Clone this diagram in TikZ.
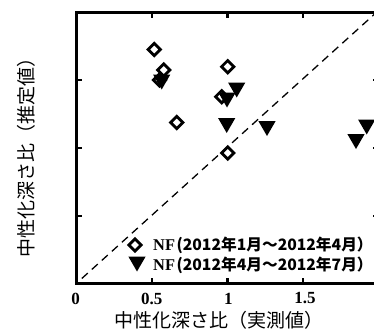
\documentclass[tikz,border=0pt]{standalone}
\usepackage{fontspec}
\setmainfont{Liberation Serif}
\newfontfamily\cjk{Noto Sans CJK JP}
\usetikzlibrary{shapes.geometric}
\begin{document}
\begin{tikzpicture}[x=1pt,y=-1pt,
  frame/.style={line width=3pt},
  tickmark/.style={line width=2.4pt},
  diag/.style={dash pattern=on 8pt off 5.5pt, line width=1.3pt},
  dmark/.style={shape=diamond, draw, line width=2.8pt, minimum width=13.5pt, minimum height=13.5pt, inner sep=0pt},
  tmark/.style={shape=regular polygon, regular polygon sides=3, shape border rotate=180, fill=black, minimum size=20pt, inner sep=0pt},
  numlab/.style={font=\fontsize{17}{18}\selectfont\bfseries, inner sep=0pt},
  axtitle/.style={font=\cjk\fontsize{19}{20}\selectfont, inner sep=0pt},
  legtext/.style={font=\fontsize{16.4}{17}\selectfont, inner sep=0pt, anchor=west}]
\useasboundingbox (0,0) rectangle (374,329);
\clip (0,0) rectangle (374,329);
% frame
\coordinate (bl) at (76.5,283.3);
\coordinate (tr) at (378,13);
\draw[frame] (bl) rectangle (tr);
% ticks x (bottom and top)
\foreach \x in {152,227.5,303}{
  \draw[tickmark] (\x,283.3) -- (\x,278);
  \draw[tickmark] (\x,13) -- (\x,18.3);
}
% ticks y (left and right)
\foreach \y in {80,148,216}{
  \draw[tickmark] (76.5,\y) -- (81.8,\y);
  \draw[tickmark] (378,\y) -- (372.7,\y);
}
% diagonal y=x
\coordinate (d0) at (81.8,278.5);
\coordinate (d1) at (378,11);
\draw[diag] (d0) -- (d1);
% tick labels
\node[numlab] (l0) at (75.7,298.5) {0};
\node[numlab] (l05) at (151.7,298.5) {0.5};
\node[numlab] (l1) at (228.3,298.5) {1};
\node[numlab] (l15) at (305,298.5) {1.5};
% axis titles
\node[axtitle] (xt) at (218.5,320.5) {中性化深さ比（実測値）};
\node[axtitle, rotate=90] (yt) at (26.7,152.5) {中性化深さ比（推定値）};
% diamonds
\node[dmark] (a1) at (154.3,49.5) {};
\node[dmark] (a2) at (163.8,70) {};
\node[dmark] (a3) at (227.7,66.7) {};
\node[dmark] (a4) at (159.5,80) {};
\node[dmark] (a5) at (221.7,96.7) {};
\node[dmark] (a6) at (176.7,122.5) {};
\node[dmark] (a7) at (227.7,153) {};
% triangles
\node[tmark] (b1) at (161.7,79.5) {};
\node[tmark] (b2) at (236.7,87.5) {};
\node[tmark] (b3) at (227,97.5) {};
\node[tmark] (b4) at (226.7,123) {};
\node[tmark] (b5) at (267,126) {};
\node[tmark] (b6) at (356,139) {};
\node[tmark] (b7) at (366.7,124.5) {};
% legend
\node[dmark] (ld) at (135,245) {};
\node[tmark] (lt) at (137,261.5) {};
\node[legtext] (lx1) at (153,245) {\textbf{NF}\kern1.5pt{\cjk\bfseries\fontsize{15.7}{17}\selectfont (2012年1月～2012年4月）}};
\node[legtext] (lx2) at (153,265) {\textbf{NF}\kern1.5pt{\cjk\bfseries\fontsize{15.7}{17}\selectfont (2012年4月～2012年7月）}};
\end{tikzpicture}
\end{document}
